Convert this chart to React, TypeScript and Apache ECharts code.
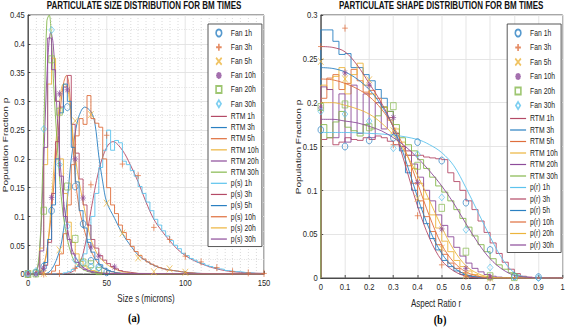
import React, { useEffect, useRef } from 'react';
import * as echarts from 'echarts';

const S = 0.8;
const W = 709;
const H = 328;
const FONT = "'Liberation Sans', Arial, Helvetica, sans-serif";

const BLUE = '#2a80c2';
const ORANGE = '#df6e3c';
const YELLOW = '#ecb43c';
const PURPLE = '#8d4c9a';
const GREEN = '#86b84e';
const LBLUE = '#5cc3ed';
const DRED = '#b44a66';

// ---------- Left panel: particle size s (microns) ----------
const sFan1h = [[0, 0], [5, 0.002], [10, 0.013], [15, 0.11], [25, 0.29], [30, 0.152], [35, 0.087], [40, 0.023], [45, 0.012], [50, 0.003]];
const sFan3h = [[0, 0], [10, 0], [20, 0.001], [30, 0.01], [40, 0.155], [50, 0.241], [60, 0.191], [70, 0.171], [80, 0.081], [90, 0.06], [100, 0.031], [110, 0.021], [120, 0.011], [130, 0.004], [140, 0.002], [150, 0.001]];
const sFan5h = [[0, 0], [10, 0.001], [20, 0.042], [30, 0.266], [40, 0.277], [50, 0.123], [60, 0.071], [70, 0.028], [80, 0.004], [90, 0.009], [100, 0.003]];
const sFan10h = [[0, 0], [5, 0], [10, 0.01], [15, 0.133], [20, 0.313], [25, 0.32], [30, 0.2], [35, 0.132], [40, 0.047], [45, 0.031], [55, 0.012]];
const sFan20h = [[0, 0], [5, 0.001], [10, 0.11], [15, 0.373], [20, 0.282], [25, 0.152], [30, 0.061], [35, 0.02], [40, 0.017], [45, 0.005]];
const sFan30h = [[0, 0.001], [5, 0.005], [10, 0.252], [15, 0.424], [20, 0.19], [25, 0.083], [30, 0.024], [35, 0.02], [40, 0.013], [45, 0.01]];

const sRtm1h = [[0, 0], [20, 0], [25, 0.001], [30, 0.008], [35, 0.035], [40, 0.11], [45, 0.18], [50, 0.22], [54, 0.23], [60, 0.215], [65, 0.19], [70, 0.16], [75, 0.125], [80, 0.095], [85, 0.075], [90, 0.058], [95, 0.043], [100, 0.032], [105, 0.024], [110, 0.018], [115, 0.013], [120, 0.009], [125, 0.006], [130, 0.004], [140, 0.002], [150, 0.001]];
const sRtm3h = [[0, 0], [10, 0], [15, 0.008], [20, 0.04], [22.5, 0.075], [25, 0.13], [27.5, 0.2], [30, 0.245], [32.5, 0.275], [36, 0.29], [40, 0.282], [42.5, 0.262], [45, 0.205], [47.5, 0.16], [50, 0.125], [55, 0.097], [60, 0.07], [65, 0.05], [70, 0.033], [75, 0.023], [80, 0.015], [85, 0.01], [90, 0.007], [95, 0.005], [100, 0.003], [110, 0.001], [120, 0], [150, 0]];
const sRtm5h = [[0, 0], [5, 0], [7.5, 0.003], [10, 0.015], [12.5, 0.05], [15, 0.11], [17.5, 0.19], [20, 0.27], [22.5, 0.33], [24.5, 0.345], [26, 0.33], [27.5, 0.27], [30, 0.17], [32.5, 0.115], [35, 0.085], [37.5, 0.06], [40, 0.04], [45, 0.017], [50, 0.007], [55, 0.003], [60, 0.001], [70, 0], [150, 0]];
const sRtm10h = [[0, 0], [5, 0], [7.5, 0.002], [10, 0.012], [12.5, 0.05], [15, 0.13], [17.5, 0.22], [20, 0.295], [22.5, 0.33], [25, 0.325], [27.5, 0.27], [30, 0.205], [32.5, 0.16], [35, 0.125], [37.5, 0.09], [40, 0.06], [42.5, 0.043], [45, 0.031], [50, 0.017], [55, 0.009], [60, 0.004], [70, 0.001], [80, 0], [150, 0]];
const sRtm20h = [[0, 0], [5, 0.003], [7.5, 0.04], [10, 0.2], [12.5, 0.37], [14.5, 0.42], [16, 0.4], [17.5, 0.33], [20, 0.21], [22.5, 0.13], [25, 0.08], [27.5, 0.048], [30, 0.03], [35, 0.012], [40, 0.005], [50, 0.001], [60, 0], [150, 0]];
const sRtm30h = [[0, 0], [5, 0.004], [7.5, 0.05], [9, 0.15], [10.5, 0.3], [12, 0.44], [13.5, 0.45], [15, 0.4], [16.5, 0.32], [18, 0.25], [20, 0.17], [22.5, 0.1], [25, 0.06], [27.5, 0.035], [30, 0.02], [35, 0.008], [40, 0.003], [50, 0], [150, 0]];

// histogram bins (2.5 micron wide): first bin edge + bin values
const sBin = 2.5;
const sP1hStart = 22.5;
const sP1h = [0.002, 0.004, 0.008, 0.013, 0.022, 0.035, 0.06, 0.1, 0.14, 0.185, 0.215, 0.25, 0.215, 0.232, 0.228, 0.196, 0.19, 0.18, 0.17, 0.152, 0.14, 0.125, 0.11, 0.095, 0.085, 0.075, 0.066, 0.058, 0.05, 0.044, 0.036, 0.032, 0.027, 0.024, 0.02, 0.018, 0.015, 0.013, 0.011, 0.009, 0.008, 0.006, 0.005, 0.004, 0.004, 0.003, 0.002, 0.002, 0.001, 0.001, 0.001];
const sP10hStart = 15;
const sP10h = [0.005, 0.015, 0.035, 0.07, 0.12, 0.19, 0.24, 0.27, 0.26, 0.31, 0.27, 0.262, 0.255, 0.2, 0.15, 0.12, 0.105, 0.085, 0.072, 0.06, 0.048, 0.039, 0.032, 0.026, 0.021, 0.017, 0.014, 0.011, 0.009, 0.007, 0.006, 0.005, 0.004, 0.003, 0.002, 0.002, 0.001, 0.001];
const sP5hStart = 5;
const sP5h = [0.001, 0.005, 0.02, 0.06, 0.12, 0.2, 0.28, 0.33, 0.3, 0.22, 0.16, 0.11, 0.08, 0.055, 0.038, 0.025, 0.016, 0.01, 0.006, 0.004, 0.002, 0.001];
const sP3hStart = 7.5;
const sP3h = [0.003, 0.015, 0.055, 0.14, 0.23, 0.29, 0.325, 0.345, 0.26, 0.21, 0.165, 0.12, 0.085, 0.06, 0.045, 0.032, 0.024, 0.018, 0.013, 0.009, 0.006, 0.004, 0.003, 0.002, 0.001];
const sP20hStart = 5;
const sP20h = [0.004, 0.045, 0.19, 0.33, 0.375, 0.3, 0.2, 0.14, 0.09, 0.055, 0.035, 0.022, 0.014, 0.009, 0.006, 0.004, 0.002, 0.001];
const sP30hStart = 5;
const sP30h = [0.003, 0.04, 0.22, 0.41, 0.355, 0.3, 0.17, 0.1, 0.06, 0.035, 0.02, 0.012, 0.008, 0.005, 0.003, 0.002, 0.001];

// ---------- Right panel: aspect ratio r ----------
const rFan1h = [[0, 0.169], [0.1, 0.15], [0.2, 0.157], [0.3, 0.16], [0.4, 0.155], [0.5, 0.134], [0.6, 0.086], [0.7, 0.032], [0.8, 0.002], [0.9, 0.001]];
const rFan3h = [[0, 0.264], [0.1, 0.285], [0.2, 0.21], [0.3, 0.152], [0.4, 0.071], [0.5, 0.015], [0.6, 0.002], [0.7, 0]];
const rFan5h = [[0, 0.247], [0.1, 0.227], [0.2, 0.226], [0.3, 0.168], [0.4, 0.091], [0.5, 0.034], [0.6, 0.003], [0.7, 0]];
const rFan10h = [[0, 0.194], [0.1, 0.234], [0.2, 0.22], [0.3, 0.183], [0.4, 0.109], [0.5, 0.056], [0.6, 0.011], [0.7, 0.001]];
const rFan20h = [[0, 0.195], [0.1, 0.198], [0.2, 0.172], [0.3, 0.196], [0.4, 0.128], [0.5, 0.08], [0.6, 0.03], [0.7, 0.002], [0.8, 0.001]];
const rFan30h = [[0, 0.19], [0.1, 0.187], [0.2, 0.179], [0.3, 0.148], [0.4, 0.141], [0.5, 0.092], [0.6, 0.055], [0.7, 0.012], [0.8, 0.001], [0.9, 0]];

const rBin = 0.025;
const rRtm1h = [0.158, 0.16, 0.152, 0.155, 0.16, 0.158, 0.157, 0.16, 0.158, 0.162, 0.16, 0.156, 0.152, 0.15, 0.145, 0.14, 0.14, 0.138, 0.137, 0.136, 0.135, 0.12, 0.11, 0.1, 0.088, 0.078, 0.065, 0.052, 0.04, 0.028, 0.018, 0.01, 0.005, 0.002, 0.001];
const rRtm3h = [0.283, 0.283, 0.27, 0.255, 0.256, 0.24, 0.24, 0.232, 0.225, 0.215, 0.205, 0.19, 0.165, 0.145, 0.12, 0.1, 0.08, 0.062, 0.045, 0.032, 0.02, 0.013, 0.008, 0.004, 0.002, 0.001];
const rRtm5h = [0.205, 0.228, 0.232, 0.215, 0.222, 0.238, 0.225, 0.212, 0.214, 0.205, 0.195, 0.183, 0.165, 0.15, 0.128, 0.108, 0.088, 0.07, 0.053, 0.038, 0.027, 0.017, 0.011, 0.006, 0.003, 0.001];
const rRtm10h = [0.22, 0.215, 0.23, 0.24, 0.21, 0.232, 0.245, 0.22, 0.21, 0.2, 0.195, 0.18, 0.17, 0.155, 0.14, 0.125, 0.108, 0.09, 0.072, 0.057, 0.042, 0.03, 0.02, 0.013, 0.008, 0.004, 0.002, 0.001];
const rRtm20h = [0.218, 0.215, 0.16, 0.21, 0.155, 0.22, 0.165, 0.21, 0.16, 0.2, 0.17, 0.19, 0.165, 0.15, 0.14, 0.13, 0.115, 0.1, 0.088, 0.072, 0.06, 0.047, 0.035, 0.025, 0.017, 0.011, 0.007, 0.004, 0.002, 0.001];
const rRtm30h = [0.175, 0.16, 0.178, 0.19, 0.172, 0.168, 0.162, 0.175, 0.17, 0.185, 0.195, 0.19, 0.175, 0.16, 0.152, 0.145, 0.135, 0.125, 0.115, 0.105, 0.098, 0.088, 0.078, 0.068, 0.058, 0.048, 0.038, 0.03, 0.022, 0.015, 0.01, 0.006, 0.003, 0.001];

const rP1h = [[0, 0.166], [0.1, 0.166], [0.2, 0.165], [0.3, 0.163], [0.4, 0.158], [0.45, 0.152], [0.5, 0.143], [0.55, 0.128], [0.6, 0.103], [0.65, 0.075], [0.7, 0.047], [0.75, 0.022], [0.8, 0.006], [0.85, 0.001], [0.9, 0], [1, 0]];
const rP3h = [[0, 0.264], [0.05, 0.263], [0.1, 0.258], [0.15, 0.243], [0.2, 0.222], [0.25, 0.2], [0.3, 0.172], [0.35, 0.128], [0.4, 0.082], [0.45, 0.045], [0.5, 0.02], [0.55, 0.008], [0.6, 0.002], [0.65, 0], [1, 0]];
const rP5h = [[0, 0.24], [0.05, 0.239], [0.1, 0.235], [0.15, 0.227], [0.2, 0.215], [0.25, 0.197], [0.3, 0.172], [0.35, 0.135], [0.4, 0.092], [0.45, 0.055], [0.5, 0.028], [0.55, 0.012], [0.6, 0.004], [0.65, 0.001], [0.7, 0], [1, 0]];
const rP10h = [[0, 0.227], [0.05, 0.226], [0.1, 0.222], [0.15, 0.216], [0.2, 0.207], [0.25, 0.193], [0.3, 0.173], [0.35, 0.145], [0.4, 0.108], [0.45, 0.07], [0.5, 0.038], [0.55, 0.018], [0.6, 0.007], [0.65, 0.002], [0.7, 0], [1, 0]];
const rP20h = [[0, 0.2], [0.05, 0.2], [0.1, 0.197], [0.15, 0.193], [0.2, 0.187], [0.25, 0.177], [0.3, 0.163], [0.35, 0.143], [0.4, 0.117], [0.45, 0.088], [0.5, 0.058], [0.55, 0.032], [0.6, 0.014], [0.65, 0.005], [0.7, 0.001], [0.75, 0], [1, 0]];
const rP30h = [[0, 0.181], [0.05, 0.181], [0.1, 0.179], [0.15, 0.177], [0.2, 0.173], [0.25, 0.168], [0.3, 0.16], [0.35, 0.15], [0.4, 0.137], [0.45, 0.122], [0.5, 0.105], [0.55, 0.085], [0.6, 0.062], [0.65, 0.04], [0.7, 0.022], [0.75, 0.01], [0.8, 0.003], [0.85, 0.001], [0.9, 0], [1, 0]];

const leftLegend = ['Fan 1h', 'Fan 3h', 'Fan 5h', 'Fan 10h', 'Fan 20h', 'Fan 30h', 'RTM 1h', 'RTM 3h', 'RTM 5h', 'RTM 10h', 'RTM 20h', 'RTM 30h', 'p(s) 1h', 'p(s) 3h', 'p(s) 5h', 'p(s) 10h', 'p(s) 20h', 'p(s) 30h'];
const rightLegend = ['Fan 1h', 'Fan 3h', 'Fan 5h', 'Fan 10h', 'Fan 20h', 'Fan 30h', 'RTM 1h', 'RTM 3h', 'RTM 5h', 'RTM 10h', 'RTM 20h', 'RTM 30h', 'p(r) 1h', 'p(r) 3h', 'p(r) 5h', 'p(r) 10h', 'p(r) 20h', 'p(r) 30h'];

const CIRCLE = 'circle';
const PLUS = 'path://M5,0L5,10M0,5L10,5';
const CROSS = 'path://M0,0L10,10M10,0L0,10';
const STAR = 'path://M5,0L5,10M0,5L10,5M1.5,1.5L8.5,8.5M8.5,1.5L1.5,8.5';
const SQUARE = 'path://M0,0L10,0L10,10L0,10Z';
const DIAMOND = 'path://M5,0L10,6.5L5,13L0,6.5Z';

function stepData(start: number, bin: number, vals: number[], max: number) {
  const pts: number[][] = [[0, 0]];
  vals.forEach((v, i) => pts.push([+(start + i * bin).toFixed(4), v]));
  const end = +(start + vals.length * bin).toFixed(4);
  pts.push([end, vals[vals.length - 1]]);
  pts.push([end, 0]);
  pts.push([max, 0]);
  return pts;
}

const fan = (name: string, data: number[][], symbol: string, color: string, i: number) => ({
  type: 'scatter', name, data, xAxisIndex: i, yAxisIndex: i, symbol, symbolSize: 7, silent: true, z: 5,
  itemStyle: { color: 'none', borderColor: color, borderWidth: 1 },
});
const curve = (name: string, data: number[][], color: string, i: number) => ({
  type: 'line', name, data, xAxisIndex: i, yAxisIndex: i, smooth: 0.35, symbol: 'none', silent: true, z: 3,
  lineStyle: { color, width: 1 }, itemStyle: { color, opacity: 0 },
});
const step = (name: string, data: number[][], color: string, i: number) => ({
  type: 'line', name, data, xAxisIndex: i, yAxisIndex: i, step: 'end', symbol: 'none', silent: true, z: 3,
  lineStyle: { color, width: 1 }, itemStyle: { color, opacity: 0 },
});

const AX = '#3a3a3a';
const axisBase = {
  type: 'value',
  axisLine: { show: true, lineStyle: { color: AX, width: 1 } },
  axisTick: { show: true, inside: true, length: 3, lineStyle: { color: AX } },
  axisLabel: { color: '#262626', fontSize: 9.5, fontFamily: FONT, margin: 4 },
  splitLine: { show: true, lineStyle: { color: '#e2e2e2', width: 1 } },
};
const minorX = { minorTick: { show: false, splitNumber: 10 }, minorSplitLine: { show: true, lineStyle: { color: '#d6d6d6', type: [1, 2], width: 1 } } };
const minorY = { minorTick: { show: false, splitNumber: 2 }, minorSplitLine: { show: true, lineStyle: { color: '#d6d6d6', type: [1, 2], width: 1 } } };

const legendBase = {
  orient: 'vertical', itemWidth: 20, itemHeight: 7, padding: [3, 4, 3, 3],
  borderColor: '#444', borderWidth: 1, backgroundColor: '#fff', selectedMode: false,
  lineStyle: { width: 1.2 },
  textStyle: { color: '#262626', fontSize: 8.5, fontFamily: FONT },
};

const txt = (x: number, y: number, text: string, extra: any = {}) => ({
  type: 'text', x, y, silent: true,
  style: { text, fill: '#262626', font: `10px ${FONT}`, textAlign: 'center', textVerticalAlign: 'middle', ...extra },
});

export default function App() {
  const ref = useRef<HTMLDivElement>(null);
  useEffect(() => {
    if (!ref.current) return;
    const chart = echarts.init(ref.current, null, { renderer: 'svg' });
    const option: any = {
      animation: false,
      backgroundColor: '#fff',
      grid: [
        { left: 35, top: 15, width: 295, height: 259, show: true, borderColor: AX, borderWidth: 1 },
        { left: 401, top: 15, width: 304, height: 263, show: true, borderColor: AX, borderWidth: 1 },
      ],
      xAxis: [
        { ...axisBase, ...minorX, gridIndex: 0, min: 0, max: 150, interval: 50 },
        { ...axisBase, gridIndex: 1, min: 0, max: 1, interval: 0.1 },
      ],
      yAxis: [
        { ...axisBase, ...minorY, gridIndex: 0, min: 0, max: 0.45, interval: 0.05 },
        { ...axisBase, gridIndex: 1, min: 0, max: 0.3, interval: 0.05 },
      ],
      legend: [
        { ...legendBase, left: 260, top: 24, itemGap: 2.15, data: leftLegend },
        { ...legendBase, left: 634, top: 24, itemGap: 2.5, data: rightLegend },
      ],
      graphic: [
        txt(180, 6, 'PARTICULATE SIZE DISTRIBUTION FOR BM TIMES', { font: `bold 10px ${FONT}`, fill: '#111' }),
        txt(551.5, 6, 'PARTICULATE SHAPE DISTRIBUTION FOR BM TIMES', { font: `bold 10px ${FONT}`, fill: '#111' }),
        { ...txt(7, 145, 'Population Fraction p'), rotation: Math.PI / 2 },
        { ...txt(373, 147, 'Population Fraction p'), rotation: Math.PI / 2 },
        txt(182.5, 299, 'Size s (microns)'),
        txt(545, 304, 'Aspect Ratio r'),
        txt(167.5, 318, '(a)', { font: `bold 13px 'Liberation Serif', 'DejaVu Serif', serif`, fill: '#000' }),
        txt(550, 320, '(b)', { font: `bold 13px 'Liberation Serif', 'DejaVu Serif', serif`, fill: '#000' }),
      ],
      series: [
        // left panel
        fan('Fan 1h', sFan1h, CIRCLE, BLUE, 0),
        fan('Fan 3h', sFan3h, PLUS, ORANGE, 0),
        fan('Fan 5h', sFan5h, CROSS, YELLOW, 0),
        fan('Fan 10h', sFan10h, STAR, PURPLE, 0),
        fan('Fan 20h', sFan20h, SQUARE, GREEN, 0),
        fan('Fan 30h', sFan30h, DIAMOND, LBLUE, 0),
        curve('RTM 1h', sRtm1h, DRED, 0),
        curve('RTM 3h', sRtm3h, BLUE, 0),
        curve('RTM 5h', sRtm5h, ORANGE, 0),
        curve('RTM 10h', sRtm10h, YELLOW, 0),
        curve('RTM 20h', sRtm20h, PURPLE, 0),
        curve('RTM 30h', sRtm30h, GREEN, 0),
        step('p(s) 1h', stepData(sP1hStart, sBin, sP1h, 150), LBLUE, 0),
        step('p(s) 3h', stepData(sP3hStart, sBin, sP3h, 150), DRED, 0),
        step('p(s) 5h', stepData(sP5hStart, sBin, sP5h, 150), BLUE, 0),
        step('p(s) 10h', stepData(sP10hStart, sBin, sP10h, 150), ORANGE, 0),
        step('p(s) 20h', stepData(sP20hStart, sBin, sP20h, 150), YELLOW, 0),
        step('p(s) 30h', stepData(sP30hStart, sBin, sP30h, 150), PURPLE, 0),
        // right panel
        fan('Fan 1h', rFan1h, CIRCLE, BLUE, 1),
        fan('Fan 3h', rFan3h, PLUS, ORANGE, 1),
        fan('Fan 5h', rFan5h, CROSS, YELLOW, 1),
        fan('Fan 10h', rFan10h, STAR, PURPLE, 1),
        fan('Fan 20h', rFan20h, SQUARE, GREEN, 1),
        fan('Fan 30h', rFan30h, DIAMOND, LBLUE, 1),
        step('RTM 1h', stepData(0, rBin, rRtm1h, 1), DRED, 1),
        step('RTM 3h', stepData(0, rBin, rRtm3h, 1), BLUE, 1),
        step('RTM 5h', stepData(0, rBin, rRtm5h, 1), ORANGE, 1),
        step('RTM 10h', stepData(0, rBin, rRtm10h, 1), YELLOW, 1),
        step('RTM 20h', stepData(0, rBin, rRtm20h, 1), PURPLE, 1),
        step('RTM 30h', stepData(0, rBin, rRtm30h, 1), GREEN, 1),
        curve('p(r) 1h', rP1h, LBLUE, 1),
        curve('p(r) 3h', rP3h, DRED, 1),
        curve('p(r) 5h', rP5h, BLUE, 1),
        curve('p(r) 10h', rP10h, ORANGE, 1),
        curve('p(r) 20h', rP20h, YELLOW, 1),
        curve('p(r) 30h', rP30h, PURPLE, 1),
      ],
    };
    chart.setOption(option);
    return () => chart.dispose();
  }, []);
  return (
    <div style={{ position: 'fixed', left: 0, top: 0, width: 567, height: 328, overflow: 'hidden', background: '#fff' }}>
      <div ref={ref} style={{ width: W, height: H, transform: `scaleX(${S})`, transformOrigin: '0 0' }} />
    </div>
  );
}
